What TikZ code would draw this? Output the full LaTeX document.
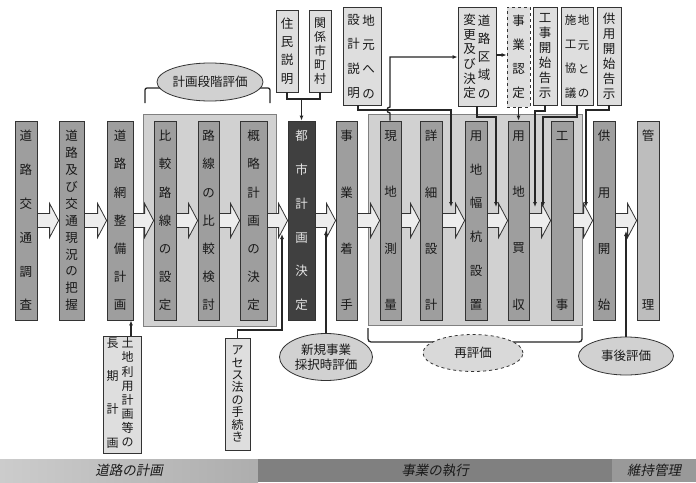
\documentclass[tikz,border=0pt]{standalone}
\usepackage{fontspec}
\setmainfont{Noto Sans CJK JP}
\newfontfamily\slantjp[FakeSlant=0.2]{Noto Sans CJK JP}
\usetikzlibrary{calc,arrows.meta,shapes.geometric}
\newcommand\vcol[6]{%
  \pgfmathsetmacro\vsp{169/(#5-1)}%
  \node[#4, minimum width={#3pt-#2pt}, minimum height=199pt, font=\fontsize{12.5}{\vsp}\selectfont] (#1) at ({(#2+#3)/2},220.5) {#6};}
\newcommand\barr[2]{%
  \draw[barrow] let \p1=(#1.east), \p2=(#2.west) in
   (\x1,\y1+7pt) -- (\x2-9pt,\y1+7pt) -- (\x2-9pt,\y1+17pt) -- (\x2,\y1) --
   (\x2-9pt,\y1-17pt) -- (\x2-9pt,\y1-7pt) -- (\x1,\y1-7pt) -- cycle;}
\tikzset{
 col/.style={draw=black!80, fill=black!38, line width=0.8pt, inner sep=0pt, align=center, text=black!90},
 darkcol/.style={col, fill=black!75, text=black!10},
 lightcol/.style={col, fill=black!26},
 grp/.style={draw=black!50, fill=black!18, line width=0.8pt, inner sep=0pt},
 tbox/.style={draw=black!80, fill=black!13, line width=0.8pt, inner sep=0pt, align=center, text=black!90},
 vtxt/.style={inner sep=0pt, align=center, text=black!90},
 evals/.style={ellipse, draw=black!80, fill=black!18, line width=0.8pt, inner sep=0pt, align=center, text=black!90, font=\fontsize{12.5}{15}\selectfont},
 conn/.style={draw=black!85, line width=1.3pt},
 arr/.style={conn, -{Latex[length=5pt,width=4pt]}},
 barrow/.style={draw=black!80, fill=black!7, line width=0.8pt},
 band/.style={inner sep=0pt, minimum height=23pt, font=\slantjp\fontsize{13.5}{15}\selectfont, text=black!90}
}
\begin{document}
\begin{tikzpicture}[x=1pt,y=-1pt]
\useasboundingbox (0,0) rectangle (696,482);
\fill[white] (0,0) rectangle (696,482);
% groups
\node[grp, minimum width=133pt, minimum height=212pt] (g1) at (209.5,220) {};
\node[grp, minimum width=214pt, minimum height=211pt] (g2) at (475,219.5) {};
% columns
\vcol{c1}{15}{37}{col}{6}{道\\路\\交\\通\\調\\査}
\vcol{c2}{59}{84}{col}{11}{道\\路\\及\\び\\交\\通\\現\\況\\の\\把\\握}
\vcol{c3}{107}{133}{col}{7}{道\\路\\網\\整\\備\\計\\画}
\vcol{c4}{154}{176}{col}{7}{比\\較\\路\\線\\の\\設\\定}
\vcol{c5}{198}{219}{col}{7}{路\\線\\の\\比\\較\\検\\討}
\vcol{c6}{240}{267}{col}{7}{概\\略\\計\\画\\の\\決\\定}
\vcol{c7}{288}{315}{darkcol}{6}{都\\市\\計\\画\\決\\定}
\vcol{c8}{336}{357}{col}{4}{事\\業\\着\\手}
\vcol{c9}{380}{401}{col}{4}{現\\地\\測\\量}
\vcol{c10}{420}{442}{col}{4}{詳\\細\\設\\計}
\vcol{c11}{465}{487}{col}{6}{用\\地\\幅\\杭\\設\\置}
\vcol{c12}{508}{529}{col}{4}{用\\地\\買\\収}
\vcol{c13}{551}{573}{col}{2}{工\\事}
\vcol{c14}{593}{615}{col}{4}{供\\用\\開\\始}
\vcol{c15}{637}{659}{lightcol}{2}{管\\理}
% block arrows
\barr{c1}{c2}\barr{c2}{c3}\barr{c3}{c4}\barr{c4}{c5}\barr{c5}{c6}
\barr{c6}{c7}\barr{c7}{c8}\barr{c8}{c9}\barr{c9}{c10}\barr{c10}{c11}
\barr{c11}{c12}\barr{c12}{c13}\barr{c13}{c14}\barr{c14}{c15}
% top boxes
\node[tbox, minimum width=22pt, minimum height=82pt, font=\fontsize{12.5}{18.3}\selectfont] (jumin) at (287,51) {住\\民\\説\\明};
\node[tbox, minimum width=22pt, minimum height=82pt, font=\fontsize{12}{14}\selectfont] (kankei) at (320,51) {関\\係\\市\\町\\村};
\node[tbox, minimum width=38pt, minimum height=98pt] (jimoto) at (362,56) {};
\node[vtxt, font=\fontsize{12.5}{24.3}\selectfont] (jimotoR) at (368.5,56.5) {地\\元\\へ\\の};
\node[vtxt, font=\fontsize{12.5}{24.3}\selectfont] (jimotoL) at (353.5,56.5) {設\\計\\説\\明};
\node[tbox, minimum width=38pt, minimum height=99pt] (douro) at (477,56.5) {};
\node[vtxt, font=\fontsize{12.5}{18.25}\selectfont] (douroR) at (484,56.5) {道\\路\\区\\域\\の};
\node[vtxt, font=\fontsize{12.5}{14.6}\selectfont] (douroL) at (469.5,56.5) {変\\更\\及\\び\\決\\定};
\node[tbox, dashed, minimum width=23pt, minimum height=100pt, font=\fontsize{12.5}{24}\selectfont] (nintei) at (518.5,57) {事\\業\\認\\定};
\node[tbox, minimum width=24pt, minimum height=98pt, font=\fontsize{12.5}{15}\selectfont] (kaishi) at (545,56) {工\\事\\開\\始\\告\\示};
\node[tbox, minimum width=32pt, minimum height=98pt] (kyougi) at (577,56) {};
\node[vtxt, font=\fontsize{11.5}{24.3}\selectfont] (kyougiR) at (583.5,56.5) {地\\元\\と\\の};
\node[vtxt, font=\fontsize{11.5}{24.3}\selectfont] (kyougiL) at (570.5,56.5) {施\\工\\協\\議};
\node[tbox, minimum width=24pt, minimum height=98pt, font=\fontsize{12.5}{15}\selectfont] (kokuji) at (609,56) {供\\用\\開\\始\\告\\示};
% bottom boxes
\node[tbox, minimum width=38pt, minimum height=117pt] (tochi) at (122,394.5) {};
\node[vtxt, font=\fontsize{12}{14.14}\selectfont] (tochiR) at (127.5,392.5) {土\\地\\利\\用\\計\\画\\等\\の};
\node[vtxt, font=\fontsize{12}{33.3}\selectfont] (tochiL) at (112.5,393) {長\\期\\計\\画};
\node[tbox, minimum width=25pt, minimum height=112pt, font=\fontsize{12}{12.4}\selectfont] (asesu) at (237.5,394) {ア\\セ\\ス\\法\\の\\手\\続\\き};
% brackets
\draw[conn, rounded corners=2pt] (145,103) -- (145,88) -- (270,88) -- (270,103);
\draw[conn, rounded corners=3pt] (368,328) -- (368,342) -- (582,342) -- (582,328);
% connectors top
\coordinate (jk) at (301.5,99);
\draw[conn] (jumin.south) |- (kankei.south |- jk) -- (kankei.south);
\draw[arr] (jk) -- (c7.north);
\draw[arr] ([xshift=-4pt]jimoto.south) -- (358,110) -- (451,110) -- (451,207);
\draw[arr] (c9.north -| 390,0) -- (390,113) arc[start angle=-90, end angle=-270, radius=3pt] -- (390,57) -- (douro.west |- 0,57);
\draw[arr] (douro.east |- 0,55) -- (nintei.west |- 0,55);
\draw[arr] (douro.south) -- (477,117) -- (496,117) -- (496,207);
\draw[arr] (nintei.south) -- (c12.north);
\draw[arr] (kaishi.south) -- (545,111) -- (535,111) -- (535,207);
\draw[arr] (kyougi.south) -- (577,117) -- (543,117) -- (543,207);
\draw[arr] (kokuji.south) -- (609,110) -- (586,110) -- (586,207);
% connectors bottom
\draw[arr] ([xshift=9pt]tochi.north) -- ([xshift=11pt]c3.south);
\draw[arr] (asesu.north) -- (237.5,330) -- (282,330) -- (282,234);
% ellipses
\node[evals, minimum width=94pt, minimum height=38pt] (keikaku) at (210,82) {計画段階評価};
\node[evals, minimum width=93pt, minimum height=47pt] (shinki) at (326,357) {新規事業\\採択時評価};
\node[evals, dashed, fill=black!15, minimum width=100pt, minimum height=37pt] (sai) at (473,353) {再評価};
\node[evals, minimum width=95pt, minimum height=38pt] (jigo) at (626,356) {事後評価};
\draw[arr] (shinki.north) -- (326,230);
\draw[arr] (jigo.north) -- (626,231);
% band
\node[band, minimum width=258pt, left color=black!20, right color=black!32] (b1) at (129,470.5) {道路の計画};
\node[band, minimum width=354pt, fill=black!50] (b2) at (435,470.5) {事業の執行};
\node[band, minimum width=84pt, fill=black!40] (b3) at (654,470.5) {維持管理};
\end{tikzpicture}
\end{document}
